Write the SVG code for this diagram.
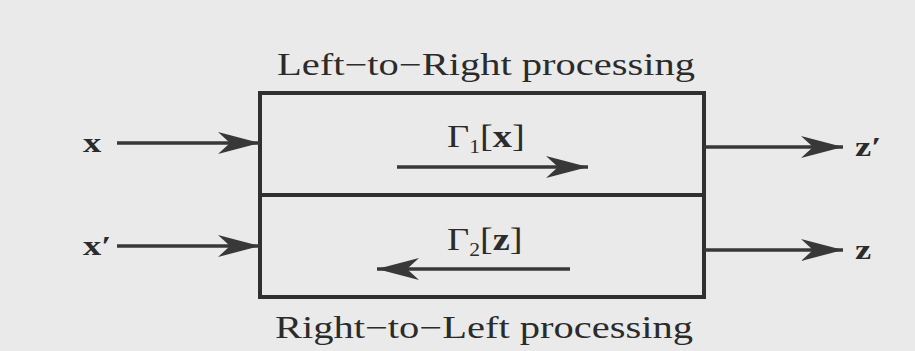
<svg xmlns="http://www.w3.org/2000/svg" width="915" height="351" viewBox="0 0 915 351">
<defs>
<style>
.t{font-family:"Liberation Serif","Times New Roman",serif;fill:#2b2b2b}
.b{font-weight:bold}
.ln{stroke:#383838;stroke-width:3.5;fill:none}
.box{stroke:#303030;stroke-width:4;fill:none}
</style>
<marker id="ah" viewBox="-42 -12 44 24" refX="0" refY="0" markerWidth="44" markerHeight="24" markerUnits="userSpaceOnUse" orient="auto">
<path d="M0,0 L-42,-11 L-30,0 L-42,11 Z" fill="#383838"/>
</marker>
</defs>
<rect width="915" height="351" fill="#eaeaea"/>
<g id="block">
<rect class="box" x="260" y="93" width="444" height="204"/>
<line class="box" x1="260" y1="195" x2="704" y2="195"/>
</g>
<g id="top-label"><text class="t" x="277" y="75" font-size="31" textLength="418" lengthAdjust="spacingAndGlyphs">Left−to−Right processing</text></g>
<g id="bottom-label"><text class="t" x="275" y="338" font-size="31" textLength="418" lengthAdjust="spacingAndGlyphs">Right−to−Left processing</text></g>
<g id="gamma1"><text class="t" transform="translate(447,147) scale(1.2,1)" font-size="32">Γ<tspan font-size="18" dy="6">1</tspan><tspan dy="-6">[</tspan><tspan class="b">x</tspan>]</text></g>
<g id="gamma2"><text class="t" transform="translate(447,250) scale(1.2,1)" font-size="32">Γ<tspan font-size="18" dy="6">2</tspan><tspan dy="-6">[</tspan><tspan class="b">z</tspan>]</text></g>
<g id="in-x"><text class="t b" transform="translate(83,152) scale(1.3,1)" font-size="28">x</text></g>
<g id="in-xp"><text class="t b" transform="translate(83,255) scale(1.3,1)" font-size="28">x′</text></g>
<g id="out-zp"><text class="t b" transform="translate(855,156) scale(1.3,1)" font-size="28">z′</text></g>
<g id="out-z"><text class="t b" transform="translate(855,259) scale(1.3,1)" font-size="28">z</text></g>
<g id="connectors">
<line class="ln" x1="117" y1="143" x2="260" y2="143" marker-end="url(#ah)"/>
<line class="ln" x1="117" y1="246" x2="260" y2="246" marker-end="url(#ah)"/>
<line class="ln" x1="704" y1="147" x2="843" y2="147" marker-end="url(#ah)"/>
<line class="ln" x1="704" y1="250" x2="843" y2="250" marker-end="url(#ah)"/>
<line class="ln" x1="397" y1="167" x2="588" y2="167" marker-end="url(#ah)"/>
<line class="ln" x1="570" y1="269" x2="377" y2="269" marker-end="url(#ah)"/>
</g>
</svg>
